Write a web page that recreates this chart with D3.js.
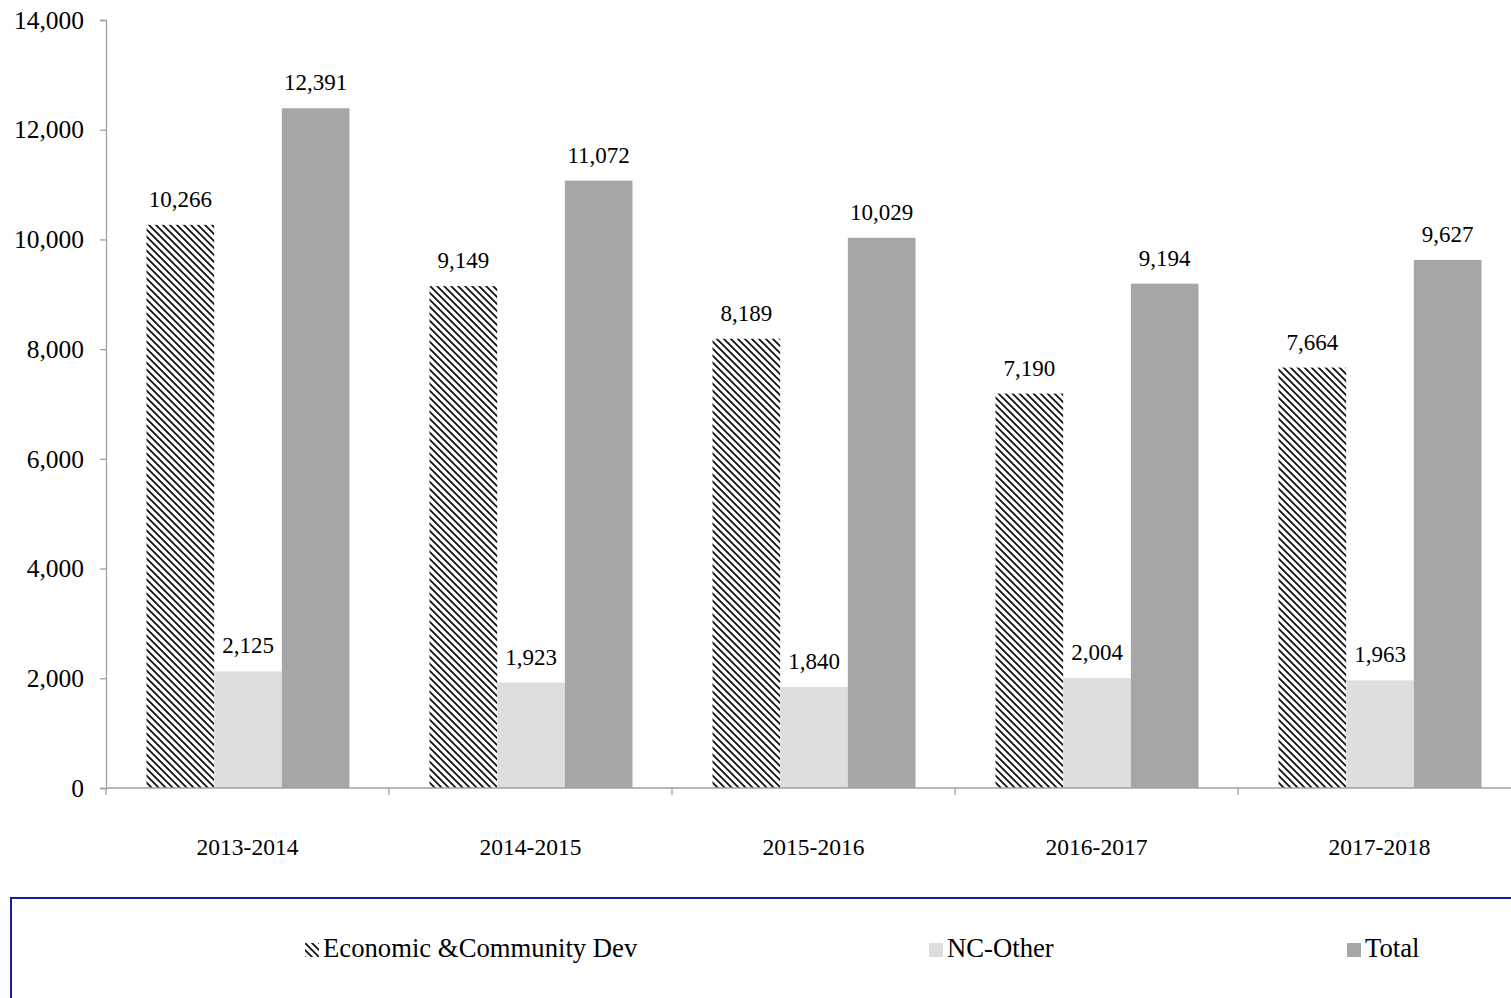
<!DOCTYPE html>
<html>
<head>
<meta charset="utf-8">
<script src="https://cdn.jsdelivr.net/npm/d3@7"></script>
<style>
  html, body { margin: 0; padding: 0; background: #fff; }
  svg { display: block; }
  text { font-family: "Liberation Serif", "Times New Roman", serif; fill: #000; }
</style>
</head>
<body>
<svg id="chart" width="1511" height="998"></svg>
<script>
const categories = ["2013-2014", "2014-2015", "2015-2016", "2016-2017", "2017-2018"];
const seriesNames = ["Economic &Community Dev", "NC-Other", "Total"];
const econValues = [10266, 9149, 8189, 7190, 7664];
const ncOtherValues = [2125, 1923, 1840, 2004, 1963];
const totalValues = [12391, 11072, 10029, 9194, 9627];
const yTicks = [0, 2000, 4000, 6000, 8000, 10000, 12000, 14000];

(function () {
const seriesValues = [econValues, ncOtherValues, totalValues];
const fills = ["url(#hatch)", "#dedede", "#a6a6a6"];

const svg = d3.select("#chart");
const defs = svg.append("defs");
const pat = defs.append("pattern")
  .attr("id", "hatch").attr("patternUnits", "userSpaceOnUse")
  .attr("width", 7).attr("height", 7);
pat.append("rect").attr("width", 7).attr("height", 7).attr("fill", "#fff");
pat.append("path").attr("d", "M-1,-1 L8,8 M-8,-1 L1,8 M6,-1 L15,8")
  .attr("stroke", "#111").attr("stroke-width", 1.8);

const plotLeft = 106, plotTop = 20, plotBottom = 788;
const catWidth = 283;
const x0 = d3.scaleBand().domain(categories).range([plotLeft, plotLeft + catWidth * categories.length]).padding(0);
const x1 = d3.scaleBand().domain(seriesNames).range([40.5, 243.5]).padding(0);
const y = d3.scaleLinear().domain([0, 14000]).range([plotBottom, plotTop]);
const axisColor = "#a0a0a0";

// Y axis
const yAxis = svg.append("g").attr("transform", `translate(${plotLeft},0)`)
  .call(d3.axisLeft(y).tickValues(yTicks).tickFormat(d3.format(",")).tickSize(6).tickPadding(16));
yAxis.attr("font-family", null);
yAxis.select(".domain").attr("stroke", axisColor).attr("stroke-width", 1.3);
yAxis.selectAll(".tick line").attr("stroke", axisColor).attr("stroke-width", 1.3);
yAxis.selectAll(".tick text").attr("font-size", 25.5).attr("fill", "#000");

// Bars
const groups = svg.append("g").selectAll("g").data(categories).join("g")
  .attr("transform", d => `translate(${x0(d)},0)`);
seriesNames.forEach((s, si) => {
  groups.append("rect")
    .attr("x", x1(s))
    .attr("width", x1.bandwidth())
    .attr("y", (d, i) => y(seriesValues[si][i]))
    .attr("height", (d, i) => plotBottom - y(seriesValues[si][i]))
    .attr("fill", fills[si]);
  groups.append("text")
    .attr("x", x1(s) + x1.bandwidth() / 2)
    .attr("y", (d, i) => y(seriesValues[si][i]) - 18)
    .attr("text-anchor", "middle")
    .attr("font-size", 23)
    .text((d, i) => d3.format(",")(seriesValues[si][i]));
});

// X axis
const xLine = svg.append("g");
xLine.append("line").attr("x1", plotLeft).attr("x2", 1511).attr("y1", plotBottom).attr("y2", plotBottom)
  .attr("stroke", axisColor).attr("stroke-width", 1.3);
const boundaries = categories.map(c => x0(c));
xLine.selectAll("line.tk").data(boundaries).join("line").attr("class", "tk")
  .attr("x1", d => d).attr("x2", d => d).attr("y1", plotBottom).attr("y2", plotBottom + 7)
  .attr("stroke", axisColor).attr("stroke-width", 1.3);
svg.append("g").selectAll("text").data(categories).join("text")
  .attr("x", d => x0(d) + x0.bandwidth() / 2)
  .attr("y", 855)
  .attr("text-anchor", "middle")
  .attr("font-size", 23.5)
  .text(d => d);

// Legend
svg.append("rect").attr("x", 11).attr("y", 898).attr("width", 1600).attr("height", 200)
  .attr("fill", "none").attr("stroke", "#1c1c96").attr("stroke-width", 2);
const legendX = [305, 929, 1347];
const legend = svg.append("g").selectAll("g").data(seriesNames).join("g")
  .attr("transform", (d, i) => `translate(${legendX[i]},943)`);
legend.append("rect").attr("width", 14).attr("height", 14).attr("fill", (d, i) => fills[i]);
legend.append("text").attr("x", 18).attr("y", 14).attr("font-size", 26.7).text(d => d);
})();
</script>
</body>
</html>
